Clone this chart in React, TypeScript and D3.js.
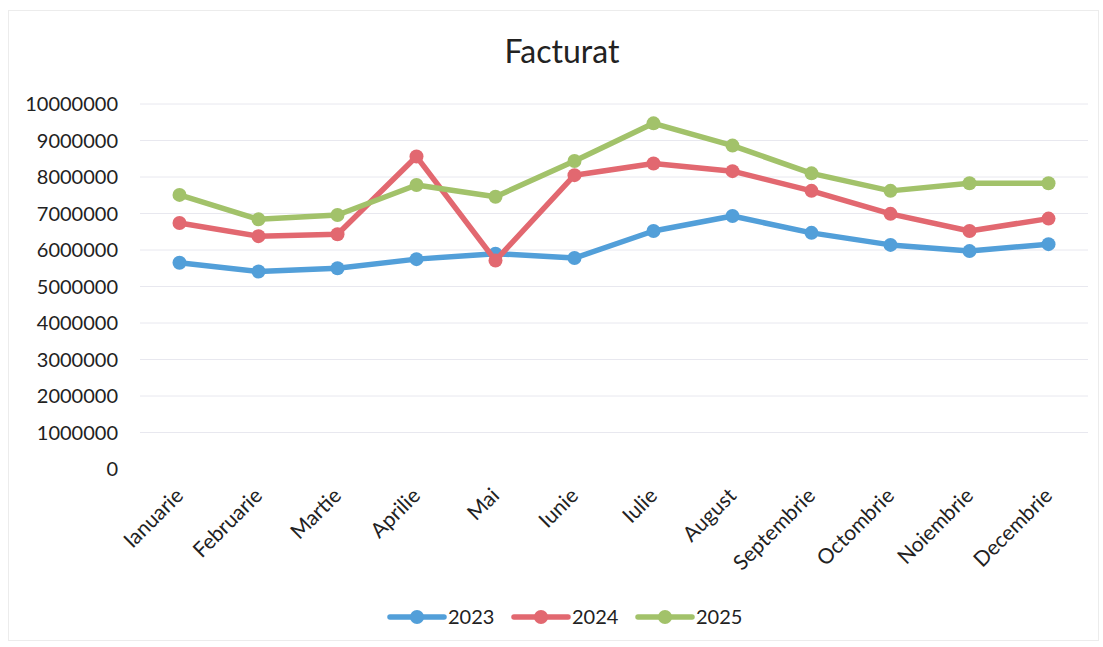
import React from "react";
import * as d3 from "d3";

const months = ["Ianuarie","Februarie","Martie","Aprilie","Mai","Iunie","Iulie","August","Septembrie","Octombrie","Noiembrie","Decembrie"];
const s2023 = [5650000,5410000,5500000,5750000,5900000,5780000,6520000,6930000,6470000,6140000,5970000,6160000];
const s2024 = [6740000,6380000,6430000,8560000,5710000,8050000,8370000,8160000,7620000,6990000,6520000,6860000];
const s2025 = [7510000,6840000,6960000,7780000,7460000,8440000,9470000,8860000,8100000,7620000,7830000,7830000];
const seriesNames = ["2023","2024","2025"];
const colors = ["#529fd9","#e26870","#a2c26a"];
const yTicks = [0,1000000,2000000,3000000,4000000,5000000,6000000,7000000,8000000,9000000,10000000];

export default function App() {
  const W = 1103, H = 647;
  const x = d3.scaleBand<string>().domain(months).range([140, 1088]);
  const y = d3.scaleLinear().domain([0, 10000000]).range([469, 104]);
  const data = [s2023, s2024, s2025];
  const line = d3.line<number>().x((_, i) => x(months[i])! + x.bandwidth() / 2).y(d => y(d));
  const font = "Lato, 'Open Sans', sans-serif";
  const legendX = [390, 514, 638];
  return (
    <svg width={W} height={H} style={{ position: "absolute", left: 0, top: 0 }}>
      <rect x={0} y={0} width={W} height={H} fill="#fff" />
      <rect x={8.5} y={10.5} width={1090} height={630} fill="none" stroke="#ececec" />
      <text x={562} y={63} textAnchor="middle" fontFamily={font} fontSize={32} fill="#222">Facturat</text>
      {yTicks.map(t => (
        <g key={t}>
          {t > 0 && <line x1={140} x2={1088} y1={y(t)} y2={y(t)} stroke="#e8e8ef" strokeWidth={1} />}
          <text x={118} y={y(t)} dy="0.35em" textAnchor="end" fontFamily={font} fontSize={20} fill="#222">{t}</text>
        </g>
      ))}
      {months.map(m => {
        const cx = x(m)! + x.bandwidth() / 2;
        return (
          <text key={m} transform={`translate(${cx + 5},${497}) rotate(-45)`} textAnchor="end" fontFamily={font} fontSize={21} fill="#222">{m}</text>
        );
      })}
      {data.map((s, k) => (
        <g key={k}>
          <path d={line(s)!} fill="none" stroke={colors[k]} strokeWidth={5.5} strokeLinejoin="round" />
          {s.map((v, i) => (
            <circle key={i} cx={x(months[i])! + x.bandwidth() / 2} cy={y(v)} r={7} fill={colors[k]} />
          ))}
        </g>
      ))}
      {seriesNames.map((n, k) => (
        <g key={n} transform={`translate(${legendX[k]},617)`}>
          <line x1={0} x2={54} y1={0} y2={0} stroke={colors[k]} strokeWidth={5.5} strokeLinecap="round" />
          <circle cx={27} cy={0} r={7} fill={colors[k]} />
          <text x={58} y={0} dy="0.35em" fontFamily={font} fontSize={20} fill="#222">{n}</text>
        </g>
      ))}
    </svg>
  );
}
